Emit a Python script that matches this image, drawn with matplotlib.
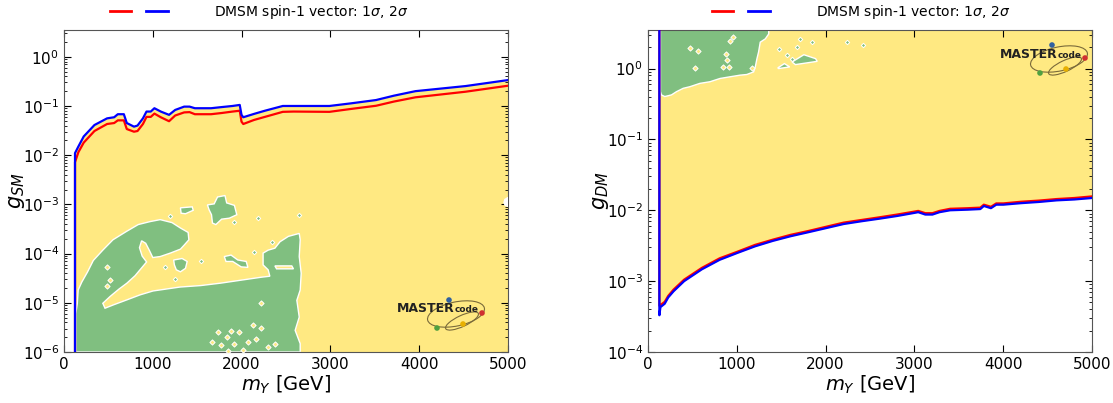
import numpy as np
import matplotlib.pyplot as plt
from matplotlib.lines import Line2D
from matplotlib.legend_handler import HandlerTuple
from matplotlib.patches import Ellipse, Polygon

YELLOW = '#ffe982'
GREEN = '#80bf80'

# ---- left panel: g_SM vs m_Y ----
mass_sm = [124, 124, 162, 222, 343, 485, 565, 606, 674, 707, 788, 828, 889, 929, 977,
           1018, 1090, 1183, 1252, 1353, 1414, 1474, 1656, 1777, 1898, 1979, 1999, 2019,
           2140, 2262, 2464, 2585, 2989, 3231, 3514, 3716, 3958, 4523, 5000]
gsm_2sigma = [1e-6, 0.011, 0.015, 0.024, 0.041, 0.056, 0.059, 0.068, 0.068, 0.045, 0.038,
              0.040, 0.056, 0.077, 0.077, 0.090, 0.077, 0.066, 0.083, 0.097, 0.097, 0.090,
              0.090, 0.095, 0.100, 0.105, 0.066, 0.059, 0.069, 0.080, 0.100, 0.100, 0.100,
              0.113, 0.132, 0.162, 0.200, 0.254, 0.336]
gsm_1sigma = [1e-6, 0.0072, 0.0115, 0.018, 0.031, 0.043, 0.045, 0.051, 0.051, 0.034, 0.030,
              0.031, 0.043, 0.060, 0.060, 0.070, 0.059, 0.049, 0.064, 0.074, 0.075, 0.068,
              0.068, 0.072, 0.077, 0.080, 0.048, 0.043, 0.052, 0.060, 0.076, 0.077, 0.076,
              0.087, 0.101, 0.123, 0.150, 0.195, 0.258]

# green (1 sigma) islands, vertices as (m_Y, log10 g_SM)
green_sm = [
    [(133, -6.0), (133, -5.22), (150, -5.01), (160, -4.74), (200, -4.58), (266, -4.37),
     (330, -4.14), (437, -3.93), (551, -3.72), (703, -3.55), (836, -3.41), (969, -3.35),
     (1083, -3.31), (1216, -3.37), (1311, -3.48), (1398, -3.57), (1406, -3.72),
     (1357, -3.82), (1311, -3.91), (1197, -3.99), (1083, -4.06), (1000, -4.08),
     (960, -3.93), (920, -3.79), (874, -3.74), (850, -3.88), (880, -4.05), (930, -4.17),
     (800, -4.45), (709, -4.60), (620, -4.72), (520, -4.87), (437, -5.01), (462, -5.11),
     (560, -5.04), (709, -4.94), (855, -4.84), (1002, -4.76), (1306, -4.68),
     (1539, -4.65), (1767, -4.60), (1995, -4.54), (2223, -4.48), (2318, -4.46),
     (2299, -4.33), (2242, -4.23), (2242, -3.99), (2299, -3.93), (2375, -3.89),
     (2432, -3.76), (2527, -3.65), (2649, -3.59), (2660, -3.72), (2649, -4.06),
     (2671, -4.40), (2660, -4.74), (2622, -4.95), (2649, -5.29), (2603, -5.56),
     (2660, -5.83), (2660, -6.0)],
    [(1661, -3.21), (1634, -3.11), (1615, -3.01), (1691, -2.99), (1729, -2.85),
     (1813, -2.82), (1832, -2.97), (1919, -3.02), (1946, -3.21), (1862, -3.28),
     (1775, -3.30), (1710, -3.41), (1672, -3.38)],
    [(1235, -4.13), (1330, -4.10), (1387, -4.16), (1368, -4.30), (1311, -4.37),
     (1265, -4.33), (1243, -4.23)],
    [(1805, -4.06), (1881, -4.03), (1957, -4.13), (2052, -4.16), (2071, -4.28),
     (1995, -4.27), (1900, -4.16), (1824, -4.16)],
    [(1311, -3.07), (1444, -3.05), (1455, -3.12), (1368, -3.19), (1319, -3.18)],
]
yellow_holes_sm = [
    [(2375, -4.25), (2565, -4.25), (2584, -4.31), (2394, -4.31)],
]
# small empty notch on the right edge
white_holes_sm = [
    [(5000, -2.86), (4965, -2.90), (4955, -2.96), (4968, -3.02), (5000, -3.04)],
]
yellow_dots_sm_m = [484, 518, 484, 2223, 1729, 1832, 1881, 1976, 1672, 1767, 1919, 2071,
                    2166, 2223, 2299, 2014, 1843, 2375, 2128]
yellow_dots_sm_g = [-4.27, -4.54, -4.66, -5.0, -5.59, -5.69, -5.57, -5.59, -5.80, -5.86,
                    -5.83, -5.80, -5.73, -5.52, -5.90, -5.95, -5.97, -5.83, -5.46]
green_dots_sm_m = [1197, 1919, 2185, 2649, 2337, 2139, 1539, 1140, 1254]
green_dots_sm_g = [-3.23, -3.36, -3.28, -3.22, -3.76, -3.96, -4.16, -4.28, -4.52]

# ---- right panel: g_DM vs m_Y ----
mass_dm = [128, 128, 140, 188, 228, 288, 407, 607, 807, 1006, 1206, 1406, 1605, 1805, 2005,
           2204, 2404, 2604, 2804, 3003, 3043, 3123, 3203, 3283, 3403, 3602, 3742, 3782,
           3862, 3922, 4002, 4201, 4401, 4601, 4800, 5000]
gdm_2sigma = [4.0, 3.3e-4, 4.3e-4, 4.8e-4, 5.9e-4, 7.2e-4, 1.0e-3, 1.47e-3, 2.0e-3, 2.5e-3,
              3.1e-3, 3.7e-3, 4.3e-3, 4.9e-3, 5.6e-3, 6.4e-3, 7.0e-3, 7.6e-3, 8.3e-3,
              9.2e-3, 9.4e-3, 8.7e-3, 8.7e-3, 9.4e-3, 1.0e-2, 1.02e-2, 1.04e-2, 1.15e-2,
              1.07e-2, 1.2e-2, 1.2e-2, 1.26e-2, 1.31e-2, 1.38e-2, 1.42e-2, 1.49e-2]
gdm_1sigma = [4.0, 4.5e-4, 4.6e-4, 5.1e-4, 6.2e-4, 7.6e-4, 1.05e-3, 1.54e-3, 2.1e-3, 2.6e-3,
              3.25e-3, 3.85e-3, 4.5e-3, 5.1e-3, 5.85e-3, 6.7e-3, 7.3e-3, 7.95e-3, 8.7e-3,
              9.6e-3, 9.8e-3, 9.1e-3, 9.1e-3, 9.8e-3, 1.05e-2, 1.07e-2, 1.09e-2, 1.2e-2,
              1.12e-2, 1.25e-2, 1.25e-2, 1.32e-2, 1.37e-2, 1.44e-2, 1.49e-2, 1.57e-2]

green_dm = [
    [(140, 0.60), (1359, 0.60), (1359, 0.488), (1321, 0.419), (1264, 0.372), (1245, 0.233),
     (1227, 0.140), (1208, 0.023), (1189, -0.047), (1113, -0.084), (1038, -0.093),
     (925, -0.116), (811, -0.140), (698, -0.186), (585, -0.209), (472, -0.256),
     (396, -0.279), (321, -0.326), (264, -0.372), (189, -0.395), (151, -0.372),
     (140, -0.326)],
    [(1461, 0.009), (1536, 0.07), (1596, 0.023), (1472, 0.0)],
    [(1623, 0.093), (1755, 0.195), (1887, 0.14), (1906, 0.102), (1811, 0.084),
     (1660, 0.056)],
]
yellow_dots_dm_m = [472, 566, 528, 925, 962, 879, 894, 849, 917, 1170]
yellow_dots_dm_g = [0.288, 0.242, 0.014, 0.395, 0.442, 0.209, 0.116, 0.023, 0.023, 0.014]
green_dots_dm_m = [1472, 1566, 1623, 1679, 1849, 1717, 2244, 2424]
green_dots_dm_g = [0.279, 0.195, 0.14, 0.30, 0.38, 0.42, 0.372, 0.335]

g_top = 3.5


def add_polys(ax, polys, fc, z):
    for poly in polys:
        xy = np.array(poly, dtype=float)
        xy[:, 1] = 10 ** xy[:, 1]
        ax.add_patch(Polygon(xy, closed=True, fc=fc, ec='white', lw=1.0, zorder=z))


def draw_panel(ax, mass, g1, g2, greens, holes, ydm, ydg, gdm, gdg, fill_above, ymin):
    m = np.array(mass)
    if fill_above:
        ax.fill_between(m[1:], np.array(g2[1:]), g_top, color=YELLOW, lw=0, zorder=1)
    else:
        ax.fill_between(m[1:], ymin, np.array(g2[1:]), color=YELLOW, lw=0, zorder=1)
    add_polys(ax, greens, GREEN, 2)
    add_polys(ax, holes, YELLOW, 3)
    ax.scatter(ydm, 10 ** np.array(ydg), marker='D', s=7, c=YELLOW, edgecolors='white',
               linewidths=0.7, zorder=3)
    ax.scatter(gdm, 10 ** np.array(gdg), marker='D', s=5, c=GREEN, edgecolors='white',
               linewidths=0.7, zorder=3)
    ax.plot(mass, g1, color='red', lw=1.6, zorder=4)
    ax.plot(mass, g2, color='blue', lw=1.6, zorder=5)

    ax.set_yscale('log')
    ax.set_xlim(0, 5000)
    ax.set_ylim(ymin, g_top)
    ax.set_xticks([0, 1000, 2000, 3000, 4000, 5000])
    ax.tick_params(which='both', direction='in', top=True, right=True, labelsize=11)
    ax.tick_params(which='major', length=5)
    ax.tick_params(which='minor', length=2.5)
    for s in ax.spines.values():
        s.set_color('#555555')
    ax.set_xlabel('$m_Y$ [GeV]', fontsize=14, labelpad=1)


def draw_logo(fig, x0, y0):
    # logo box given in pixels from top-left of the figure
    W, H = 1113, 403
    lx = fig.add_axes([x0 / W, 1 - (y0 + 40) / H, 98 / W, 40 / H])
    lx.set_xlim(0, 98)
    lx.set_ylim(40, 0)
    lx.axis('off')
    lx.patch.set_alpha(0)
    lx.add_patch(Ellipse((64, 21), 58, 24, angle=-12, fill=False, ec='#7a6a3a', lw=0.8))
    lx.add_patch(Ellipse((70, 28), 36, 11, angle=-25, fill=False, ec='#7a6a3a', lw=0.8))
    lx.text(5, 16, 'MASTER', fontsize=9, fontweight='bold', color='#222222',
            va='center', ha='left')
    lx.text(63, 17, 'code', fontsize=6.5, fontweight='bold', color='#222222',
            va='center', ha='left')
    lx.scatter([57, 90, 71, 45], [7, 20, 31, 35], s=9,
               c=['#3060a0', '#d03030', '#e8b000', '#50a040'], zorder=3)


fig = plt.figure(figsize=(11.13, 4.03), dpi=100)
ax1 = fig.add_axes([64 / 1113, 1 - 352 / 403, 444 / 1113, 322 / 403])
ax2 = fig.add_axes([648 / 1113, 1 - 352 / 403, 444 / 1113, 322 / 403])

draw_panel(ax1, mass_sm, gsm_1sigma, gsm_2sigma, green_sm, yellow_holes_sm,
           yellow_dots_sm_m, yellow_dots_sm_g, green_dots_sm_m, green_dots_sm_g,
           fill_above=False, ymin=1e-6)
add_polys(ax1, white_holes_sm, 'white', 3)
draw_panel(ax2, mass_dm, gdm_1sigma, gdm_2sigma, green_dm, [],
           yellow_dots_dm_m, yellow_dots_dm_g, green_dots_dm_m, green_dots_dm_g,
           fill_above=True, ymin=1e-4)
ax1.set_ylabel('$g_{SM}$', fontsize=15, labelpad=-3)
ax2.set_ylabel('$g_{DM}$', fontsize=15, labelpad=-3)

# legends above each panel
for cx in (259 / 1113, 861 / 1113):
    red = Line2D([], [], color='red', lw=2)
    blue = Line2D([], [], color='blue', lw=2)
    fig.legend([(red, blue)], [r'DMSM spin-1 vector: $1\sigma$, $2\sigma$'],
               handler_map={tuple: HandlerTuple(ndivide=None, pad=1.08)},
               loc='center', bbox_to_anchor=(cx, 1 - 12 / 403), frameon=False,
               fontsize=10, handlelength=4.17, handletextpad=3.3, borderpad=0)

draw_logo(fig, 392, 293)
draw_logo(fig, 995, 38)

fig.savefig('out.png', dpi=100)
